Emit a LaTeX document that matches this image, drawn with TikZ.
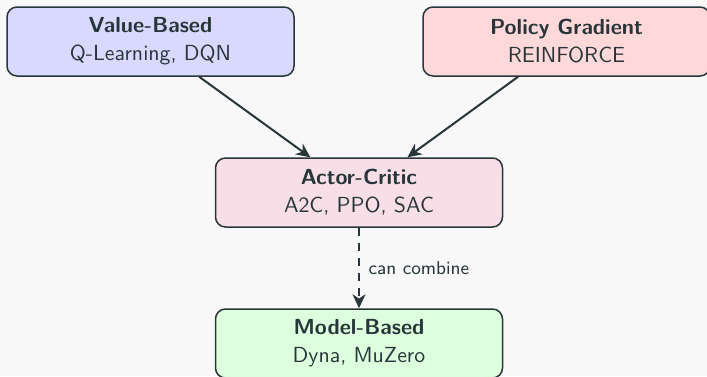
\documentclass[tikz,border=0pt]{standalone}
\usetikzlibrary{arrows.meta}
\definecolor{ink}{RGB}{40,54,58}
\definecolor{bg}{RGB}{248,248,249}
\definecolor{valfill}{RGB}{217,217,255}
\definecolor{polfill}{RGB}{255,217,217}
\definecolor{acfill}{RGB}{248,222,230}
\definecolor{mbfill}{RGB}{221,255,221}
\begin{document}
\begin{tikzpicture}[x=0.5pt,y=-0.5pt,
  family/.style={draw=ink, line width=0.75pt, rounded corners=5pt,
    minimum width=143.5pt, minimum height=34.5pt, align=center,
    text=ink, font=\sffamily\fontsize{10.9}{14}\selectfont},
  flow/.style={draw=ink, line width=1pt, -{Stealth[length=7pt,width=6.5pt,inset=2.2pt]}},
  tag/.style={text=ink, font=\sffamily\fontsize{9.35}{11}\selectfont}
]
\fill[bg] (0,0) rectangle (707,376);
\useasboundingbox (0,0) rectangle (707,376);

\node[family, fill=valfill] (vb) at (150.5,41.5) {\textbf{Value-Based}\\Q-Learning, DQN};
\node[family, fill=polfill] (pg) at (566.5,41.5) {\textbf{Policy Gradient}\\REINFORCE};
\node[family, fill=acfill] (ac) at (359,192.5) {\textbf{Actor-Critic}\\A2C, PPO, SAC};
\node[family, fill=mbfill] (mb) at (359,343.5) {\textbf{Model-Based}\\Dyna, MuZero};

\draw[flow] (vb) -- (ac);
\draw[flow] (pg) -- (ac);
\draw[flow, dash pattern=on 4pt off 3.5pt] (ac) -- node[tag, right, xshift=1pt] (cc) {can combine} (mb);
\end{tikzpicture}
\end{document}
